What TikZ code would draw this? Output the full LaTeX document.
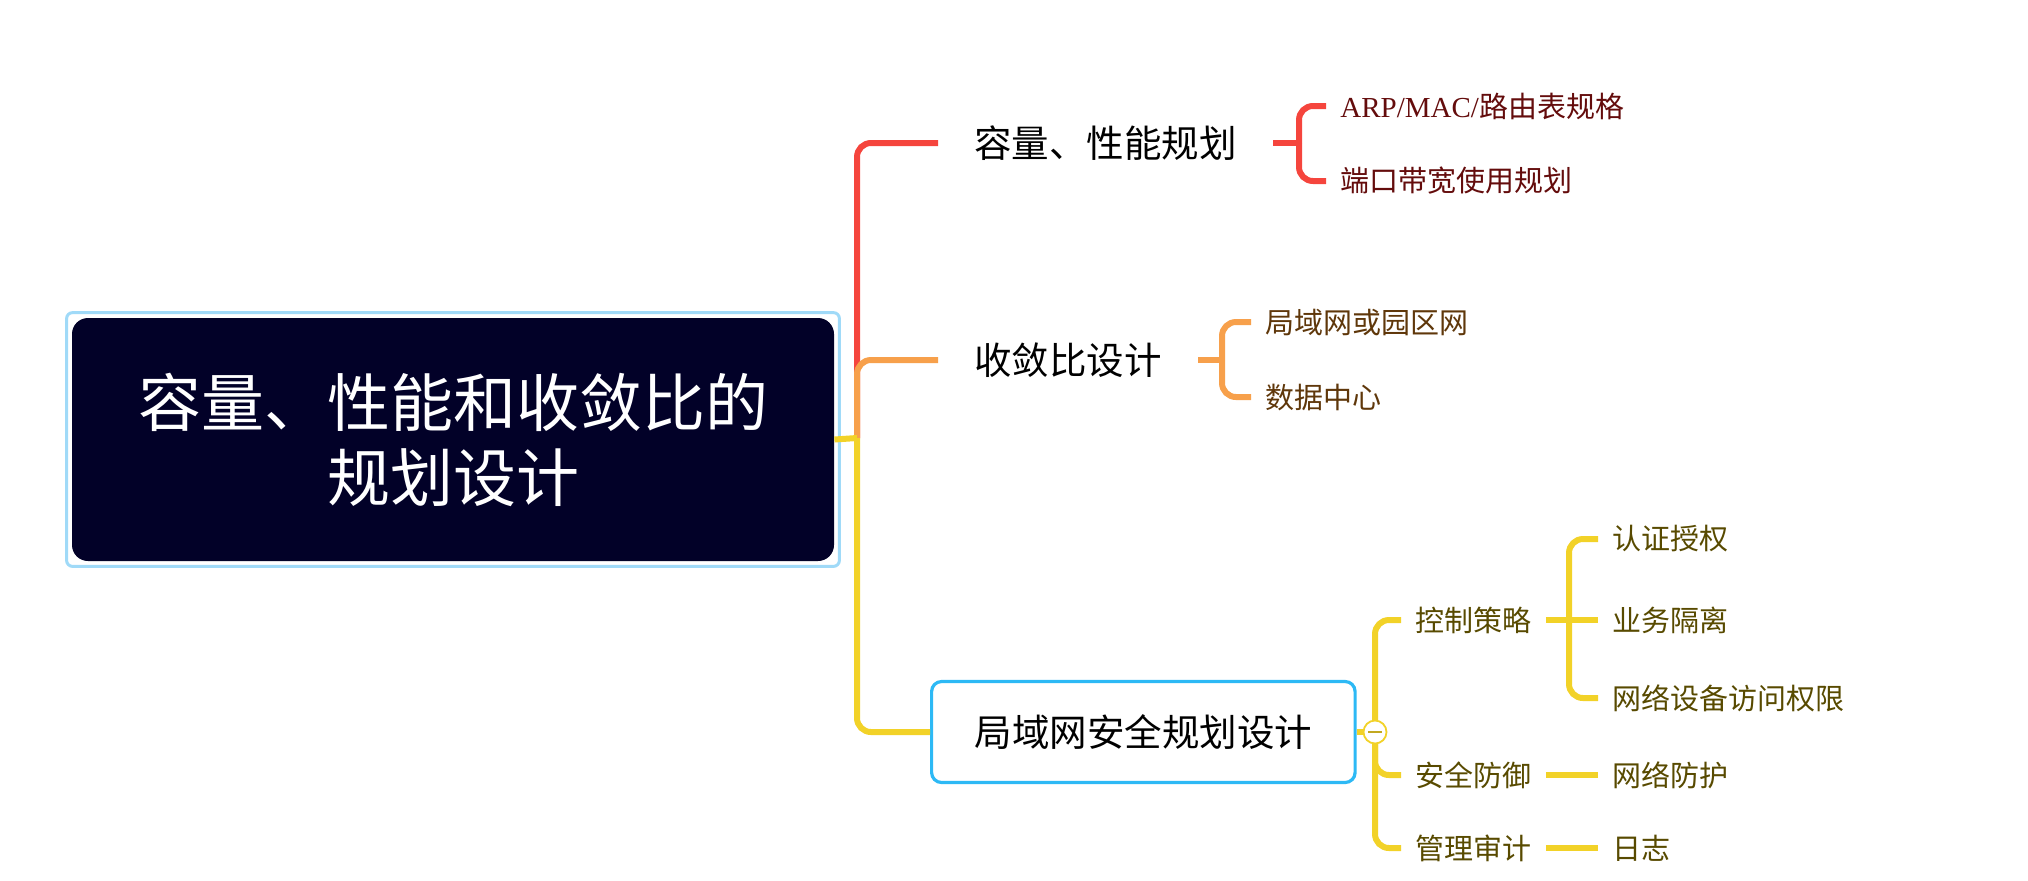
\documentclass[tikz,border=0pt]{standalone}
\usepackage{fontspec}
\setmainfont{Noto Sans CJK SC}
\newfontfamily\latinpart{Liberation Serif}
\definecolor{rootnavy}{RGB}{2,1,40}
\definecolor{ringblue}{RGB}{160,218,248}
\definecolor{boxblue}{RGB}{45,185,245}
\definecolor{redline}{RGB}{245,69,61}
\definecolor{orangeline}{RGB}{247,160,75}
\definecolor{yellowline}{RGB}{242,210,40}
\definecolor{redtext}{RGB}{100,12,12}
\definecolor{orangetext}{RGB}{95,55,10}
\definecolor{yellowtext}{RGB}{88,74,0}

\begin{document}
\begin{tikzpicture}[x=0.5pt, y=-0.5pt,
    ast/.style={line width=3pt, rounded corners=7pt},
    topic/.style={anchor=west, inner xsep=18pt, inner ysep=4pt, font=\fontsize{18.75pt}{22pt}\selectfont},
    leaf/.style={anchor=west, inner xsep=7pt, inner ysep=3pt, font=\fontsize{14.5pt}{17pt}\selectfont}]
    \useasboundingbox (0,0) rectangle (2028,880);           %Rahmen
    % Wurzel
    \node [fill=rootnavy, rounded corners=8pt, minimum width=381pt, minimum height=121.5pt, text=white, align=center,
           font=\fontsize{31.5pt}{37.5pt}\selectfont] (root) at (453,439.5) {容量、性能和收敛比的\\规划设计};
    \draw [ringblue, line width=1.5pt, rounded corners=3pt] ([shift={(-2.5pt,2.5pt)}]root.north west) rectangle ([shift={(2.5pt,-2.5pt)}]root.south east);
    % erste Ebene
    \node [topic] (cap) at (938,143) {容量、性能规划};
    \node [topic] (conv) at (938,360) {收敛比设计};
    \node [topic, draw=boxblue, line width=1.6pt, rounded corners=5pt, minimum height=50.5pt, inner xsep=21.5pt] (sec) at (930,732) {局域网安全规划设计};
    \coordinate (trunk) at (857,438);
    \draw [ast, redline] (trunk) |- (cap.west);
    \draw [ast, orangeline] (trunk) |- (conv.west);
    \draw [ast, yellowline] (root.east) -- (trunk);
    \draw [ast, yellowline] (trunk) |- (sec.west);
    % Kapazitaet
    \node [leaf, text=redtext] (arp) at (1326,106) {{\latinpart ARP/MAC/}路由表规格};
    \node [leaf, text=redtext] (port) at (1326,181) {端口带宽使用规划};
    \coordinate (capfork) at (1299,143);
    \draw [ast, redline] (cap.east) -- (capfork);
    \draw [ast, redline] (capfork) |- (arp.west);
    \draw [ast, redline] (capfork) |- (port.west);
    % Konvergenz
    \node [leaf, text=orangetext] (lan) at (1251,322) {局域网或园区网};
    \node [leaf, text=orangetext] (dc) at (1251,397) {数据中心};
    \coordinate (convfork) at (1222,360);
    \draw [ast, orangeline] (conv.east) -- (convfork);
    \draw [ast, orangeline] (convfork) |- (lan.west);
    \draw [ast, orangeline] (convfork) |- (dc.west);
    % Sicherheit
    \node [leaf, text=yellowtext] (ctrl) at (1401,620) {控制策略};
    \node [leaf, text=yellowtext] (def) at (1401,775) {安全防御};
    \node [leaf, text=yellowtext] (aud) at (1401,848) {管理审计};
    \node [leaf, text=yellowtext] (auth) at (1598,539) {认证授权};
    \node [leaf, text=yellowtext] (iso) at (1598,620) {业务隔离};
    \node [leaf, text=yellowtext] (acl) at (1598,698) {网络设备访问权限};
    \node [leaf, text=yellowtext] (prot) at (1598,775) {网络防护};
    \node [leaf, text=yellowtext] (log) at (1598,848) {日志};
    \coordinate (secfork) at (1375,732);
    \draw [ast, yellowline] (sec.east) -- (secfork);
    \draw [ast, yellowline] (secfork) |- (ctrl.west);
    \draw [ast, yellowline] (secfork) |- (def.west);
    \draw [ast, yellowline] (secfork) |- (aud.west);
    \coordinate (ctrlfork) at (1569,620);
    \draw [ast, yellowline] (ctrl.east) -- (iso.west);
    \draw [ast, yellowline] (ctrlfork) |- (auth.west);
    \draw [ast, yellowline] (ctrlfork) |- (acl.west);
    \draw [ast, yellowline] (def.east) -- (prot.west);
    \draw [ast, yellowline] (aud.east) -- (log.west);
    % Einklappknopf
    \node [circle, draw=yellowline, fill=white, line width=0.9pt, minimum size=11.5pt, inner sep=0pt] (fold) at (secfork) {};
    \draw [yellowline!80!black, line width=0.7pt] ([xshift=-3.5pt]fold.center) -- ([xshift=3.5pt]fold.center);
\end{tikzpicture}
\end{document}
